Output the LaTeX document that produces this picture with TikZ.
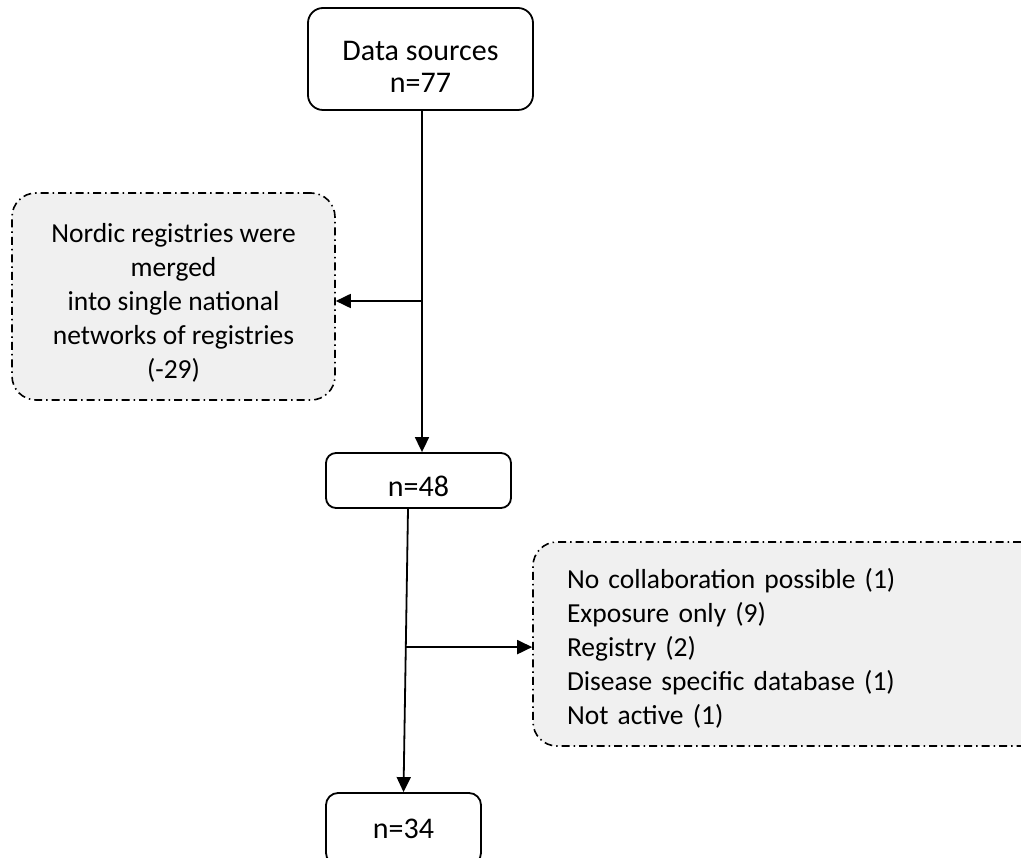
\documentclass[tikz,border=0pt]{standalone}
\usepackage{fontspec}
\setmainfont{Carlito}
\usetikzlibrary{arrows.meta,calc}
\definecolor{boxgray}{HTML}{F0F0F0}
\tikzset{
  mainbox/.style={draw=black, line width=1.8pt, fill=white, align=center, inner sep=0pt,
    font=\fontsize{30}{32}\selectfont},
  sidebox/.style={draw=black, line width=1.6pt, fill=boxgray, rounded corners=24pt,
    dash pattern=on 8pt off 4pt on 1.5pt off 4pt, inner sep=0pt,
    font=\fontsize{27.5}{34}\selectfont},
  conn/.style={line width=1.8pt, -{Triangle[length=15pt,width=14pt]}},
}
\begin{document}
\begin{tikzpicture}[x=1pt,y=-1pt]
\useasboundingbox (0,0) rectangle (1021,858);
\clip (0,0) rectangle (1021,858);
\node[mainbox, rounded corners=15pt, minimum width=225pt, minimum height=102pt] (src) at (420.5,59) {\rule{0pt}{36pt}Data sources\\n=77};
\node[sidebox, align=center, minimum width=323pt, minimum height=207pt] (merge) at (173.5,296.5)
  {\rule{0pt}{32pt}Nordic registries were\\merged\\into single national\\networks of registries\\(-29)};
\node[mainbox, rounded corners=10pt, minimum width=185pt, minimum height=55pt] (n48) at (418.5,480.5) {\rule{0pt}{32pt}n=48};
\node[sidebox, align=left, text width=444pt, inner xsep=34pt, minimum width=512pt, minimum height=204pt] (excl) at (789,644)
  {\rule{0pt}{28pt}No collaboration possible (1)\\Exposure only (9)\\Registry (2)\\Disease specific database (1)\\Not active (1)};
\node[mainbox, rounded corners=12pt, minimum width=155pt, minimum height=72pt] (n34) at (403.5,829) {n=34};
% connectors
\coordinate (j1) at (422,301);
\draw[line width=1.8pt] (src.south -| j1) -- (j1);
\draw[conn] (j1) -- (j1 |- n48.north);
\draw[conn] (j1) -- (j1 -| merge.east);
\coordinate (b1) at (408,508);
\draw[conn] (b1 |- n48.south) -- (n34.north);
\coordinate (j2) at ($(b1 |- n48.south)!0.488!(n34.north)$);
\draw[conn] (j2) -- (j2 -| excl.west);
\end{tikzpicture}
\end{document}
